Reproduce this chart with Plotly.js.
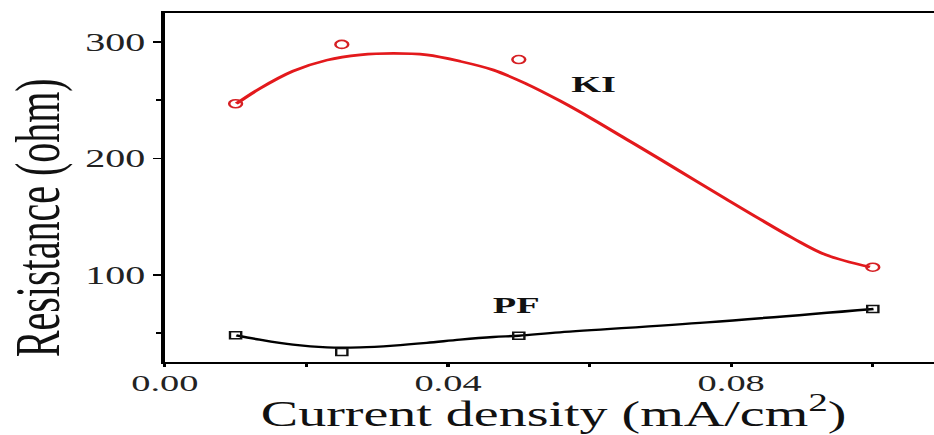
<!DOCTYPE html>
<html>
<head>
<meta charset="utf-8">
<script src="https://cdn.plot.ly/plotly-3.0.1.min.js"></script>
<style>
  html, body { margin: 0; padding: 0; background: #fff; overflow: hidden; }
  #wrap { width: 934px; height: 435px; overflow: hidden; }
  #plot { width: 584px; height: 435px; transform: scaleX(1.6); transform-origin: 0 0; }
</style>
</head>
<body>
<div id="wrap"><div id="plot"></div></div>
<script>
// Measured points
const currentDensity = [0.01, 0.025, 0.05, 0.1];
const resistanceKI = [247, 298, 285, 106.5];
const resistancePF = [47.9, 33.6, 47.6, 70.6];

// Fitted curves
const fitKIx = [0.0101, 0.0134, 0.0181, 0.0229, 0.0276, 0.0323, 0.037, 0.0417, 0.0464, 0.0511, 0.0558, 0.0605, 0.0652, 0.0699, 0.0746, 0.0793, 0.084, 0.0887, 0.0934, 0.0996];
const fitKIy = [247, 260, 275, 284.5, 289, 290.3, 289, 283.5, 276, 264, 249.5, 233.5, 216.5, 199.5, 182.2, 165, 148, 131.5, 117, 106.6];
const fitPFx = [0.0101, 0.0134, 0.0181, 0.0229, 0.0276, 0.0323, 0.037, 0.0417, 0.0464, 0.05, 0.0558, 0.0766, 0.1001];
const fitPFy = [47.9, 44.2, 39.9, 37.6, 37.6, 39.1, 41.4, 44.2, 46.5, 47.6, 50.5, 59.1, 70.6];

// Labels
const seriesNames = ['KI', 'PF'];
const labelX = [0.0606, 0.0497];
const labelY = [264.4, 73.6];

const xTickVals = [0, 0.04, 0.08];
const xTickText = ['0.00', '0.04', '0.08'];
const yTickVals = [100, 200, 300];
const yTickText = ['100', '200', '300'];
const xTitle = 'Current density (mA/cm<sup>2</sup>)';
const yTitle = 'Resistance (ohm)';

const FONT = 'Liberation Serif, Times New Roman, serif';

const traces = [
  { x: fitKIx, y: fitKIy, mode: 'lines', line: { color: '#e3191c', width: 2.6, shape: 'spline', smoothing: 1 }, hoverinfo: 'skip' },
  { x: currentDensity, y: resistanceKI, mode: 'markers', name: 'KI',
    marker: { symbol: 'circle-open', size: 8, color: '#d62024', line: { width: 1.6, color: '#d62024' } } },
  { x: fitPFx, y: fitPFy, mode: 'lines', line: { color: '#000', width: 2.4, shape: 'spline', smoothing: 1 }, hoverinfo: 'skip' },
  { x: currentDensity, y: resistancePF, mode: 'markers', name: 'PF',
    marker: { symbol: 'square-open', size: 7, color: '#111', line: { width: 1.5, color: '#111' } } }
];

const annotations = seriesNames.map((n, i) => ({
  x: labelX[i], y: labelY[i], xref: 'x', yref: 'y', text: '<b>' + n + '</b>',
  showarrow: false, font: { family: FONT, size: 24, color: '#111' }
}));
// y axis title
annotations.push({
  x: -0.166, y: 0.4126, xref: 'paper', yref: 'paper', xanchor: 'center', yanchor: 'middle',
  text: yTitle, textangle: -90, showarrow: false, borderpad: 0,
  font: { family: FONT, size: 40, color: '#111' }
});
// x axis title
annotations.push({
  x: 0.505, y: -0.209, xref: 'paper', yref: 'paper', xanchor: 'center', yanchor: 'bottom',
  text: xTitle, showarrow: false, borderpad: 0,
  font: { family: FONT, size: 35, color: '#111' }
});

const layout = {
  width: 584, height: 435,
  margin: { l: 103, r: 0, t: 13, b: 73 },
  paper_bgcolor: '#fff', plot_bgcolor: '#fff',
  showlegend: false,
  font: { family: FONT, color: '#111' },
  xaxis: {
    range: [0, 0.1087], showgrid: false, zeroline: false,
    showline: true, linecolor: '#000', linewidth: 2.2, mirror: true,
    ticks: 'outside', ticklen: 3, tickwidth: 2, tickcolor: '#000',
    tickvals: xTickVals, ticktext: xTickText, ticklabelstandoff: -5,
    tickfont: { family: FONT, size: 24, color: '#222' },
    minor: { dtick: 0.02, tick0: 0, ticks: 'outside', ticklen: 3, tickwidth: 2, tickcolor: '#000' }
  },
  yaxis: {
    range: [25, 325], showgrid: false, zeroline: false,
    showline: true, linecolor: '#000', linewidth: 2.2, mirror: false,
    ticks: 'outside', ticklen: 5, tickwidth: 1.6, tickcolor: '#000',
    tickvals: yTickVals, ticktext: yTickText,
    tickfont: { family: FONT, size: 25, color: '#222' },
    minor: { tickvals: [50, 250], ticks: 'outside', ticklen: 3, tickwidth: 1.6, tickcolor: '#000' }
  },
  annotations: annotations
};

Plotly.newPlot('plot', traces, layout, { displayModeBar: false, staticPlot: true });
</script>
</body>
</html>
